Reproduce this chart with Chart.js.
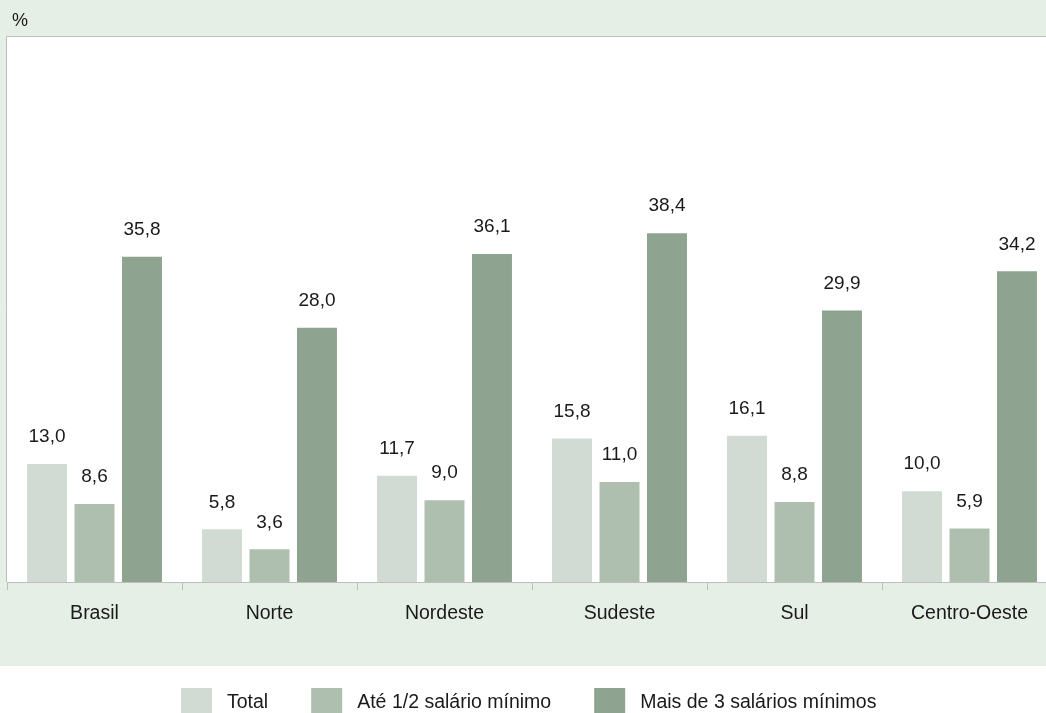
<!DOCTYPE html>
<html>
<head>
<meta charset="utf-8">
<script src="https://cdn.jsdelivr.net/npm/chart.js@4.4.0/dist/chart.umd.min.js"></script>
<style>
    html, body { margin: 0; padding: 0; overflow: hidden; background: #fff; }
    #grafico { display: block; }
</style>
</head>
<body>
<canvas id="grafico" width="1060" height="713"></canvas>
<script>
var regioes = ['Brasil', 'Norte', 'Nordeste', 'Sudeste', 'Sul', 'Centro-Oeste'];
var total = [13.0, 5.8, 11.7, 15.8, 16.1, 10.0];
var ateMeio = [8.6, 3.6, 9.0, 11.0, 8.8, 5.9];
var maisDeTres = [35.8, 28.0, 36.1, 38.4, 29.9, 34.2];
var nomesSeries = ['Total', 'Até 1/2 salário mínimo', 'Mais de 3 salários mínimos'];
var coresSeries = ['#d1dbd3', '#aebfb0', '#8ea490'];

var fonte = '"Liberation Sans", Arial, sans-serif';
var fundoVerde = '#e6efe5';
var cinzaLinha = '#bdbdbd';

// fundo verde, area branca, bordas, simbolo % e legenda
var fundo = {
    id: 'fundo',
    beforeDraw: function(chart) {
        var ctx = chart.ctx;
        var a = chart.chartArea;
        ctx.save();
        ctx.fillStyle = '#fff';
        ctx.fillRect(0, 0, chart.width, chart.height);
        ctx.fillStyle = fundoVerde;
        ctx.fillRect(0, 0, chart.width, 666);
        ctx.fillStyle = '#fff';
        ctx.fillRect(a.left, a.top, a.right - a.left, a.bottom - a.top);
        ctx.strokeStyle = cinzaLinha;
        ctx.lineWidth = 1;
        ctx.beginPath();
        ctx.moveTo(a.left - 0.5, a.bottom);
        ctx.lineTo(a.left - 0.5, a.top - 0.5);
        ctx.lineTo(a.right, a.top - 0.5);
        ctx.stroke();
        ctx.fillStyle = '#1a1a1a';
        ctx.font = '18px ' + fonte;
        ctx.textBaseline = 'middle';
        ctx.textAlign = 'left';
        ctx.fillText('%', 12, 21);
        ctx.restore();
    },
    afterDraw: function(chart) {
        var ctx = chart.ctx;
        ctx.save();
        ctx.font = '19.5px ' + fonte;
        ctx.textBaseline = 'middle';
        ctx.textAlign = 'left';
        var x = 181;
        chart.data.datasets.forEach(function(ds) {
            ctx.fillStyle = ds.backgroundColor;
            ctx.fillRect(x, 688, 31, 31);
            ctx.fillStyle = '#1a1a1a';
            ctx.fillText(ds.label, x + 46, 703);
            x = x + 46 + ctx.measureText(ds.label).width + 43;
        });
        ctx.restore();
    }
};

// valores em cima das barras
var rotulos = {
    id: 'rotulos',
    afterDatasetsDraw: function(chart) {
        var ctx = chart.ctx;
        ctx.save();
        ctx.font = '19px ' + fonte;
        ctx.fillStyle = '#1a1a1a';
        ctx.textAlign = 'center';
        ctx.textBaseline = 'middle';
        chart.data.datasets.forEach(function(ds, i) {
            chart.getDatasetMeta(i).data.forEach(function(barra, j) {
                var txt = ds.data[j].toFixed(1).replace('.', ',');
                ctx.fillText(txt, barra.x, barra.y - 27);
            });
        });
        ctx.restore();
    }
};

var data = {
    labels: regioes,
    datasets: [
        { label: nomesSeries[0], data: total, backgroundColor: coresSeries[0] },
        { label: nomesSeries[1], data: ateMeio, backgroundColor: coresSeries[1] },
        { label: nomesSeries[2], data: maisDeTres, backgroundColor: coresSeries[2] }
    ]
};

var config = {
    type: 'bar',
    data: data,
    options: {
        responsive: false,
        animation: false,
        datasets: {
            bar: {
                categoryPercentage: 0.814,
                barPercentage: 0.842,
                borderWidth: 0
            }
        },
        layout: {
            padding: { left: 7, top: 37, right: 3, bottom: 47 }
        },
        scales: {
            x: {
                grid: {
                    drawOnChartArea: false,
                    drawTicks: true,
                    tickLength: 8,
                    color: cinzaLinha
                },
                border: { display: true, color: cinzaLinha },
                ticks: {
                    color: '#1a1a1a',
                    padding: 12,
                    font: { family: fonte, size: 19.5 }
                },
                afterFit: function(escala) { escala.height = 84; }
            },
            y: {
                display: false,
                min: 0,
                max: 60
            }
        },
        plugins: {
            legend: { display: false },
            tooltip: { enabled: false }
        }
    },
    plugins: [fundo, rotulos]
};

var grafico = new Chart(document.getElementById('grafico'), config);
</script>
</body>
</html>
